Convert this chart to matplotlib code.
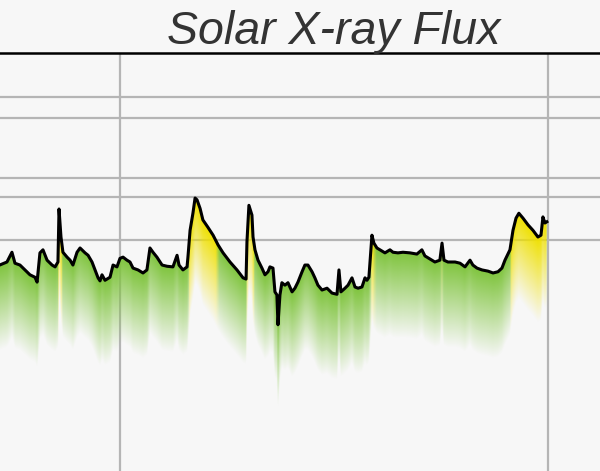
import numpy as np
import matplotlib
matplotlib.use("Agg")
import matplotlib.pyplot as plt

# time in hours (UT), log10 of X-ray flux (W/m^2)
hours = [-6.75, -6.34, -6.06, -5.89, -5.61, -5.33, -5.05, -4.77, -4.65, -4.49,
         -4.32, -4.09, -3.81, -3.64, -3.48, -3.42, -3.31, -3.20, -2.97, -2.80,
         -2.64, -2.41, -2.24, -1.96, -1.79, -1.57, -1.40, -1.23, -1.12, -1.01,
         -0.84, -0.56, -0.39, -0.17, 0.00, 0.17, 0.39, 0.56, 0.73, 1.01,
         1.29, 1.51, 1.68, 1.85, 2.07, 2.36, 2.64, 2.97, 3.20, 3.31,
         3.53, 3.76, 3.81, 3.93, 4.09, 4.21, 4.32, 4.49, 4.65, 4.93,
         5.22, 5.50, 5.78, 6.17, 6.56, 6.90, 7.07, 7.12, 7.23, 7.40,
         7.46, 7.57, 7.74, 7.96, 8.13, 8.30, 8.41, 8.58, 8.69, 8.80,
         8.86, 8.97, 9.08, 9.25, 9.42, 9.65, 9.81, 9.98, 10.21, 10.37,
         10.54, 10.77, 10.93, 11.10, 11.33, 11.61, 11.89, 12.17, 12.28, 12.39,
         12.62, 12.79, 13.01, 13.18, 13.35, 13.57, 13.74, 13.85, 13.96, 14.07,
         14.13, 14.24, 14.41, 14.58, 14.86, 15.14, 15.31, 15.59, 15.87, 16.26,
         16.65, 16.93, 17.10, 17.38, 17.66, 17.94, 18.06, 18.17, 18.39, 18.79,
         19.07, 19.35, 19.63, 19.79, 20.02, 20.30, 20.64, 20.92, 21.20, 21.42,
         21.59, 21.87, 22.04, 22.21, 22.37, 22.60, 22.88, 23.16, 23.44, 23.61,
         23.72, 23.83, 23.94]
log_flux = [-6.41, -6.36, -6.20, -6.38, -6.41, -6.49, -6.57, -6.61, -6.69, -6.21,
            -6.16, -6.33, -6.41, -6.44, -6.36, -5.49, -5.95, -6.20, -6.28, -6.33,
            -6.41, -6.20, -6.13, -6.21, -6.25, -6.36, -6.49, -6.62, -6.67, -6.57,
            -6.66, -6.61, -6.41, -6.44, -6.30, -6.28, -6.33, -6.36, -6.46, -6.49,
            -6.54, -6.49, -6.13, -6.20, -6.28, -6.41, -6.43, -6.44, -6.25, -6.41,
            -6.49, -6.44, -6.28, -5.84, -5.56, -5.31, -5.34, -5.48, -5.67, -5.79,
            -5.92, -6.08, -6.21, -6.36, -6.49, -6.62, -6.64, -6.03, -5.43, -5.59,
            -5.95, -6.16, -6.33, -6.46, -6.57, -6.52, -6.44, -6.46, -6.85, -6.90,
            -7.39, -6.90, -6.70, -6.74, -6.70, -6.85, -6.79, -6.69, -6.52, -6.41,
            -6.41, -6.52, -6.62, -6.74, -6.82, -6.79, -6.87, -6.89, -6.49, -6.85,
            -6.79, -6.74, -6.62, -6.77, -6.79, -6.77, -6.62, -6.66, -6.61, -6.16,
            -5.92, -6.05, -6.13, -6.16, -6.21, -6.16, -6.20, -6.21, -6.20, -6.21,
            -6.23, -6.16, -6.26, -6.31, -6.36, -6.33, -6.05, -6.33, -6.36, -6.36,
            -6.38, -6.44, -6.33, -6.41, -6.46, -6.49, -6.51, -6.54, -6.52, -6.46,
            -6.33, -6.16, -5.84, -5.64, -5.56, -5.64, -5.75, -5.84, -5.95, -5.92,
            -5.62, -5.72, -5.70]

# reference levels drawn as horizontal lines
levels = [-3.66, -4.0, -4.98, -5.3, -6.0]
day_lines = [0, 24]

xlim = (-6.73, 26.92)
ylim = (-9.79, -2.93)

bg = "#f7f7f7"
green = np.array([0.50, 0.77, 0.24])
yellow = np.array([0.94, 0.88, 0.0])

fig = plt.figure(figsize=(6, 4.71), dpi=100, facecolor=bg)
ax = fig.add_axes([0, 0, 1, 1 - 53 / 471])
ax.set_facecolor(bg)

# gradient fill under the curve, fading downward, coloured by flux level
ts = np.linspace(xlim[0], xlim[1], 1500)
trace = np.interp(ts, hours, log_flux, left=np.nan, right=np.nan)
ys = np.linspace(ylim[0], ylim[1], 900)
depth = trace[None, :] - ys[:, None]
fade = 1.4
alpha = np.clip(1 - depth / fade, 0, 1)
alpha[depth < 0] = 0
alpha = np.nan_to_num(alpha)
mix = np.clip((np.nan_to_num(trace, nan=-9) + 6.12) / 0.12, 0, 1)
cols = green[None, :] * (1 - mix[:, None]) + yellow[None, :] * mix[:, None]
rgba = np.zeros((len(ys), len(ts), 4))
rgba[..., :3] = cols[None, :, :]
rgba[..., 3] = alpha
ax.imshow(rgba, extent=[xlim[0], xlim[1], ylim[0], ylim[1]], origin="lower",
          aspect="auto", interpolation="bilinear", zorder=1)

for lv in levels:
    ax.axhline(lv, color="#b5b5b5", lw=1.6, zorder=0.5)
for d in day_lines:
    ax.axvline(d, color="#b5b5b5", lw=1.6, zorder=0.5)

ax.plot(hours, log_flux, color="black", lw=2.2, zorder=3)

ax.set_xlim(*xlim)
ax.set_ylim(*ylim)
ax.set_xticks([])
ax.set_yticks([])
for s in ["left", "right", "bottom"]:
    ax.spines[s].set_visible(False)
ax.spines["top"].set_color("black")
ax.spines["top"].set_linewidth(1.8)

fig.text(334 / 600, 1 - 44 / 471, "Solar X-ray Flux", ha="center", va="baseline",
         fontsize=33.5, style="italic", color="#333333", family="Liberation Sans")

fig.savefig("out.png", dpi=100, facecolor=bg)
